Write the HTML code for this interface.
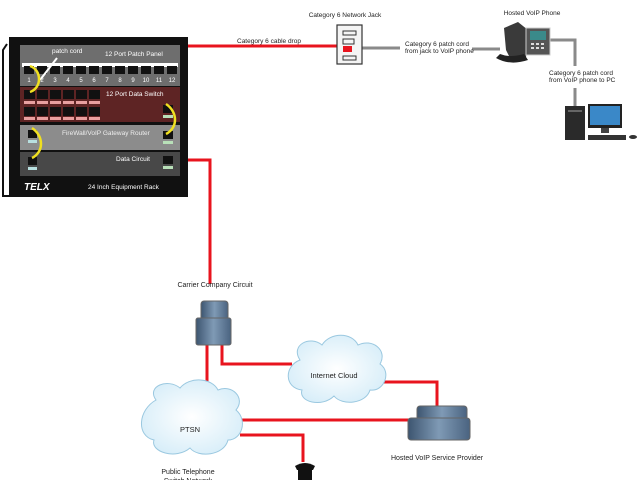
<!DOCTYPE html>
<html><head><meta charset="utf-8"><style>
html,body{margin:0;padding:0;background:#fff;width:640px;height:480px;overflow:hidden}
svg{display:block}
text{font-family:"Liberation Sans",sans-serif}
</style></head><body>
<svg width="640" height="480" viewBox="0 0 640 480" xmlns="http://www.w3.org/2000/svg">
<defs>
<linearGradient id="bld" x1="0" x2="1"><stop offset="0" stop-color="#3d5570"/><stop offset="0.5" stop-color="#7f9ab5"/><stop offset="1" stop-color="#4a6380"/></linearGradient>
<radialGradient id="cl" cx="0.5" cy="0.5" r="0.6"><stop offset="0" stop-color="#ffffff"/><stop offset="1" stop-color="#d4ecf8"/></radialGradient>
</defs>
<!-- red lines -->
<g stroke="#e8141e" stroke-width="3" fill="none">
<line x1="186" y1="46" x2="340" y2="46"/>
<polyline points="170,160 210,160 210,284"/>
<line x1="207" y1="344" x2="207" y2="396"/>
<polyline points="222,344 222,364 292,364"/>
<polyline points="380,382 437,382 437,408"/>
<line x1="232" y1="420" x2="412" y2="420"/>
<polyline points="240,435 303,435 303,462"/>
</g>
<!-- gray lines -->
<g stroke="#8a8a8a" stroke-width="3" fill="none">
<line x1="352" y1="48" x2="400" y2="48"/>
<line x1="472" y1="49" x2="500" y2="49"/>
<polyline points="550,40 575,40 575,66"/>
<line x1="575" y1="88" x2="575" y2="106"/>
</g>
<!-- rack -->
<rect x="9" y="37" width="179" height="160" fill="#111"/>
<path d="M7 44 L3 50 L3 196 L9 196" stroke="#111" stroke-width="2" fill="none"/>
<rect x="20" y="45" width="160" height="41" fill="#6e6e6e"/>
<text x="52" y="53" font-size="6.5" fill="#fff">patch cord</text>
<text x="105" y="56" font-size="6.5" fill="#fff">12 Port Patch Panel</text>
<g fill="#fff"><rect x="22" y="63" width="156" height="4"/></g>
<g fill="#111">
<rect x="24" y="66" width="10" height="8"/><rect x="37" y="66" width="10" height="8"/><rect x="50" y="66" width="10" height="8"/><rect x="63" y="66" width="10" height="8"/><rect x="76" y="66" width="10" height="8"/><rect x="89" y="66" width="10" height="8"/><rect x="102" y="66" width="10" height="8"/><rect x="115" y="66" width="10" height="8"/><rect x="128" y="66" width="10" height="8"/><rect x="141" y="66" width="10" height="8"/><rect x="154" y="66" width="10" height="8"/><rect x="167" y="66" width="10" height="8"/>
</g>
<g font-size="6" fill="#fff" text-anchor="middle">
<text x="29" y="82">1</text><text x="42" y="82">2</text><text x="55" y="82">3</text><text x="68" y="82">4</text><text x="81" y="82">5</text><text x="94" y="82">6</text><text x="107" y="82">7</text><text x="120" y="82">8</text><text x="133" y="82">9</text><text x="146" y="82">10</text><text x="159" y="82">11</text><text x="172" y="82">12</text>
</g>
<line x1="57" y1="58" x2="40" y2="80" stroke="#fff" stroke-width="2"/>
<rect x="20" y="87" width="160" height="35" fill="#5e2424"/>
<text x="106" y="96" font-size="6.5" fill="#fff">12 Port Data Switch</text>
<g fill="#111">
<rect x="24" y="90" width="11" height="9"/><rect x="37" y="90" width="11" height="9"/><rect x="50" y="90" width="11" height="9"/><rect x="63" y="90" width="11" height="9"/><rect x="76" y="90" width="11" height="9"/><rect x="89" y="90" width="11" height="9"/>
<rect x="24" y="107" width="11" height="9"/><rect x="37" y="107" width="11" height="9"/><rect x="50" y="107" width="11" height="9"/><rect x="63" y="107" width="11" height="9"/><rect x="76" y="107" width="11" height="9"/><rect x="89" y="107" width="11" height="9"/>
<rect x="163" y="105" width="10" height="8"/>
</g>
<g fill="#e8a0a0">
<rect x="24" y="101" width="11" height="3"/><rect x="37" y="101" width="11" height="3"/><rect x="50" y="101" width="11" height="3"/><rect x="63" y="101" width="11" height="3"/><rect x="76" y="101" width="11" height="3"/><rect x="89" y="101" width="11" height="3"/>
<rect x="24" y="117" width="11" height="3"/><rect x="37" y="117" width="11" height="3"/><rect x="50" y="117" width="11" height="3"/><rect x="63" y="117" width="11" height="3"/><rect x="76" y="117" width="11" height="3"/><rect x="89" y="117" width="11" height="3"/>
</g>
<rect x="163" y="115" width="10" height="3" fill="#b8e0b8"/>
<rect x="20" y="125" width="160" height="25" fill="#8c8c8c"/>
<text x="62" y="135" font-size="6.5" fill="#eee">FireWall/VoIP Gateway Router</text>
<rect x="28" y="130" width="9" height="8" fill="#111"/><rect x="28" y="140" width="9" height="3" fill="#b8e0e0"/>
<rect x="163" y="131" width="10" height="8" fill="#111"/><rect x="163" y="141" width="10" height="3" fill="#b8e0b8"/>
<rect x="20" y="152" width="160" height="24" fill="#484848"/>
<text x="116" y="161" font-size="6.5" fill="#fff">Data Circuit</text>
<rect x="28" y="157" width="9" height="8" fill="#111"/><rect x="28" y="167" width="9" height="3" fill="#b8e0e0"/>
<rect x="163" y="156" width="10" height="8" fill="#111"/><rect x="163" y="166" width="10" height="3" fill="#b8e0b8"/>
<text x="24" y="190" font-size="10" font-weight="bold" font-style="italic" fill="#fff">TELX</text>
<text x="88" y="189" font-size="6.5" fill="#fff">24 Inch Equipment Rack</text>
<!-- yellow cords -->
<g stroke="#f0e020" stroke-width="2.5" fill="none">
<path d="M30 66 C42 70 42 88 30 92"/>
<path d="M166 104 C178 112 178 128 166 134"/>
<path d="M32 128 C44 136 44 152 32 158"/>
</g>
<!-- jack -->
<text x="345" y="17" font-size="6.5" fill="#222" text-anchor="middle">Category 6 Network Jack</text>
<rect x="337" y="25" width="25" height="39" fill="#f4f4f4" stroke="#333" stroke-width="1.2"/>
<rect x="343" y="31" width="13" height="4" fill="none" stroke="#333"/>
<rect x="343" y="39" width="11" height="5" fill="none" stroke="#333"/>
<rect x="343" y="46" width="9" height="6" fill="#e8141e"/>
<rect x="343" y="56" width="13" height="4" fill="none" stroke="#333"/>
<text x="237" y="43" font-size="6.5" fill="#222">Category 6 cable drop</text>
<text x="405" y="46" font-size="6.5" fill="#222">Category 6 patch cord</text>
<text x="405" y="53" font-size="6.5" fill="#222">from jack to VoIP phone</text>
<!-- phone -->
<text x="532" y="15" font-size="6.5" fill="#222" text-anchor="middle">Hosted VoIP Phone</text>
<path d="M504 28 L518 22 L528 30 L526 58 L512 62 L506 50 Z" fill="#3a3a3a"/>
<path d="M496 58 Q510 66 528 60 L524 54 Q510 58 500 54 Z" fill="#222"/>
<rect x="526" y="28" width="24" height="27" fill="#555" stroke="#ccc"/>
<rect x="530" y="31" width="16" height="9" fill="#3a8a8a"/>
<g fill="#ddd"><rect x="531" y="43" width="3" height="2"/><rect x="536" y="43" width="3" height="2"/><rect x="541" y="43" width="3" height="2"/><rect x="531" y="47" width="3" height="2"/><rect x="536" y="47" width="3" height="2"/><rect x="541" y="47" width="3" height="2"/></g>
<text x="549" y="75" font-size="6.5" fill="#222">Category 6 patch cord</text>
<text x="549" y="82" font-size="6.5" fill="#222">from VoIP phone to PC</text>
<!-- PC -->
<rect x="565" y="106" width="20" height="34" fill="#2a2a2a"/>
<rect x="568" y="110" width="14" height="2" fill="#666"/>
<rect x="588" y="104" width="34" height="24" fill="#222"/>
<rect x="590" y="106" width="30" height="19" fill="#3a88c8"/>
<rect x="601" y="128" width="8" height="5" fill="#444"/>
<rect x="588" y="135" width="38" height="5" fill="#333"/>
<ellipse cx="633" cy="137" rx="4" ry="2" fill="#333"/>
<!-- carrier building -->
<text x="215" y="287" font-size="7" fill="#222" text-anchor="middle">Carrier Company Circuit</text>
<rect x="201" y="301" width="27" height="20" rx="3" fill="url(#bld)" stroke="#666"/>
<rect x="196" y="318" width="35" height="27" rx="2" fill="url(#bld)" stroke="#666"/>
<!-- clouds -->
<g fill="url(#cl)" stroke="#9ac8e0" stroke-width="1">
<path d="M300 360 C290 345 310 335 322 345 C330 332 352 332 358 345 C372 338 388 350 380 364 C392 372 384 392 370 390 C366 404 342 406 334 396 C322 408 298 402 302 390 C284 388 284 366 300 360 Z"/>
<path d="M156 400 C146 386 168 378 180 388 C190 376 212 378 218 390 C232 384 246 398 236 410 C248 420 242 440 228 440 C224 456 198 458 190 448 C176 460 150 452 154 440 C136 436 138 410 156 400 Z"/>
</g>
<text x="334" y="378" font-size="7.5" fill="#222" text-anchor="middle">Internet Cloud</text>
<text x="190" y="432" font-size="7.5" fill="#222" text-anchor="middle">PTSN</text>
<!-- provider building -->
<rect x="417" y="406" width="50" height="14" rx="3" fill="url(#bld)" stroke="#666"/>
<rect x="408" y="418" width="62" height="22" rx="3" fill="url(#bld)" stroke="#666"/>
<text x="437" y="460" font-size="7" fill="#222" text-anchor="middle">Hosted VoIP Service Provider</text>
<!-- phone -->
<path d="M295 466 Q305 460 315 466 L313 470 L297 470 Z" fill="#111"/>
<rect x="298" y="469" width="14" height="11" fill="#111"/>
<text x="188" y="474" font-size="7" fill="#222" text-anchor="middle">Public Telephone</text>
<text x="188" y="483" font-size="7" fill="#222" text-anchor="middle">Switch Network</text>
</svg>
</body></html>
